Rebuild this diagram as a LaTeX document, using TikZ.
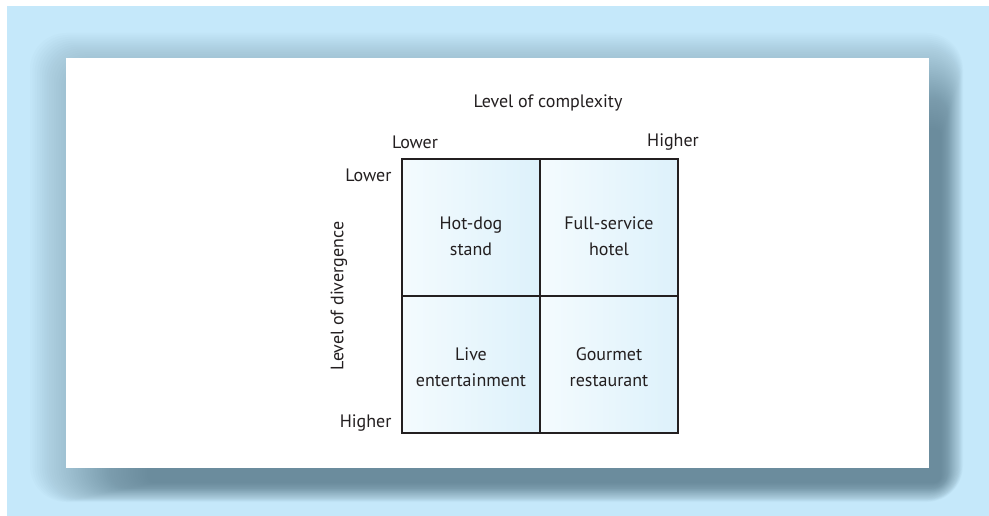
\documentclass[tikz,border=0pt]{standalone}
\usepackage{fontspec}
\setmainfont{PT Sans}
\definecolor{panelblue}{RGB}{197,232,250}
\definecolor{shadowgrey}{RGB}{74,106,122}
\definecolor{cellleft}{RGB}{244,251,254}
\definecolor{cellright}{RGB}{221,241,251}
\definecolor{inkgrey}{RGB}{35,31,32}
\newcommand{\padtop}[1]{\rule{0pt}{#1}}
\begin{document}
\begin{tikzpicture}[x=1pt,y=-1pt,line width=1.1pt,
 font=\fontsize{18}{26}\selectfont,
 cell/.style={draw=inkgrey,left color=cellleft,right color=cellright,
  minimum width=138pt,minimum height=137pt,inner sep=0pt,align=center,
  text=inkgrey},
 axislabel/.style={text=inkgrey,inner sep=1pt}]
\useasboundingbox (0,0) rectangle (989,516);
\fill[panelblue] (7,6) rectangle (989,516);
% soft shadow behind the card, heavier to the lower right
\foreach \i [evaluate=\i as \r using 36-0.6*\i] in {0,...,49}
  \fill[shadowgrey,opacity=.02,rounded corners=\r pt]
    ({30+2.4*\i},{33+1.95*\i}) rectangle ({963-0.45*\i},{502-0.4*\i});
\fill[white] (66,58) rectangle (929,468);
% the four quadrants
\node[cell] (hotdog) at (471,227.5) {\padtop{30pt}Hot-dog\\stand};
\node[cell] (hotel) at (609,227.5) {\padtop{30pt}Full-service\\hotel};
\node[cell] (live) at (471,364.5) {\padtop{18pt}Live\\entertainment};
\node[cell] (gourmet) at (609,364.5) {\padtop{18pt}Gourmet\\restaurant};
% axis labels
\node[axislabel] (complexity) at (548,103) {Level of complexity};
\node[axislabel] (cxlow) at (415,142) {Lower};
\node[axislabel] (cxhigh) at (673,142) {Higher};
\node[axislabel,anchor=east] (dvlow) at (393,175) {Lower};
\node[axislabel,anchor=east] (dvhigh) at (393,423) {Higher};
\node[axislabel,rotate=90] (divergence) at (339,296) {Level of divergence};
\end{tikzpicture}
\end{document}
